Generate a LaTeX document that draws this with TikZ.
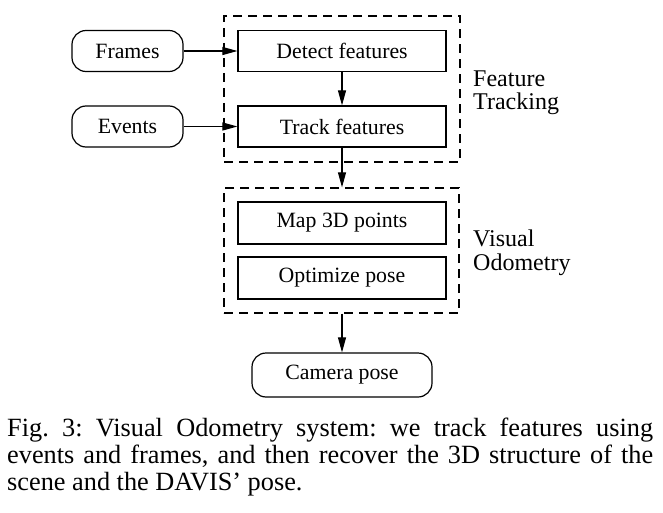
\documentclass[tikz,border=0pt]{standalone}
\usepackage{fontspec}
\setmainfont{Liberation Serif}
\usetikzlibrary{arrows.meta}
\newcommand\bxfont{\fontsize{21.8}{26}\selectfont}
\newcommand\lblfont{\fontsize{24}{23.3}\selectfont}
\newcommand\capfont{\fontsize{26.3}{26.7}\selectfont\frenchspacing}
\tikzset{
  box/.style={draw, line width=1.2pt, minimum width=208pt, minimum height=41pt, inner sep=0pt, font=\bxfont},
  pill/.style={box, rounded corners=14pt, minimum width=111pt},
  grp/.style={draw, dash pattern=on 9pt off 6pt, line width=1.3pt, inner sep=0pt},
  arr/.style={-{Triangle[length=15pt,width=8pt]}, line width=1.1pt},
}
\begin{document}
\begin{tikzpicture}[x=1pt,y=-1pt]
\useasboundingbox (0,0) rectangle (663,513);
% groups
\node[grp, minimum width=236pt, minimum height=146pt] (ft) at (342,89) {};
\node[grp, minimum width=235pt, minimum height=125pt] (vo) at (341.5,250.5) {};
% nodes
\node[pill] (frames) at (127.5,51) {Frames};
\node[pill] (events) at (127.5,126.5) {Events};
\node[box] (detect) at (342,51) {Detect features};
\node[box] (track) at (342,126.5) {Track features};
\node[box, minimum height=42pt] (map) at (342,223) {Map 3D points};
\node[box, minimum height=42pt] (opt) at (342,278) {Optimize pose};
\node[pill, minimum width=180pt, minimum height=44pt] (cam) at (342,375) {Camera pose};
% labels (base anchor = baseline of last line)
\node[anchor=base west, align=left, inner sep=0pt, font=\lblfont] (ftl) at (473,110) {Feature\\Tracking};
\node[anchor=base west, align=left, inner sep=0pt, font=\lblfont] (vol) at (473,270) {Visual\\Odometry};
% arrows
\draw[arr] (frames.east) -- (detect.west);
\draw[arr] (events.east) -- (track.west);
\draw[arr] (detect.south) -- (track.north);
\draw[arr] (track.south) -- (track.south |- vo.north);
\draw[arr] (vo.south -| cam.north) -- (cam.north);
% caption
\node[anchor=base west, align=left, inner sep=0pt, font=\capfont] (cap) at (7,490)
  {\makebox[646pt][s]{Fig. 3: Visual Odometry system: we track features using}\\
   \makebox[646pt][s]{events and frames, and then recover the 3D structure of the}\\
   scene and the DAVIS' pose.};
\end{tikzpicture}
\end{document}
